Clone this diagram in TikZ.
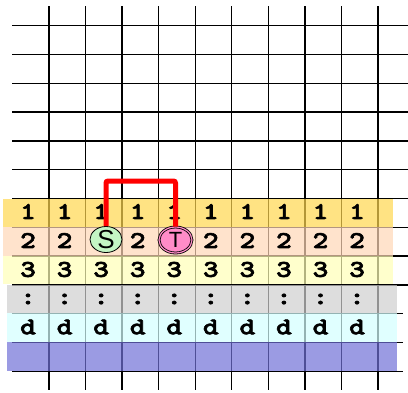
\documentclass[tikz,border=0pt]{standalone}
\usepackage{fontspec}
\setsansfont{Liberation Sans}
\newfontfamily\cellfont[FakeStretch=1.25,FakeBold=2.5]{lmmonolt10-bold.otf}
\usetikzlibrary{shapes.geometric}
\definecolor{bandA}{RGB}{255,215,79}
\definecolor{bandB}{RGB}{255,215,182}
\definecolor{bandC}{RGB}{255,255,182}
\definecolor{bandD}{RGB}{207,207,207}
\definecolor{bandE}{RGB}{211,255,255}
\definecolor{bandF}{RGB}{112,112,215}
\definecolor{sgreen}{RGB}{196,245,196}
\definecolor{tpink}{RGB}{255,140,200}
\tikzset{
  gridline/.style={line width=1.3pt, black},
  band/.style={fill opacity=0.7, draw=none},
  cell/.style={font=\cellfont\fontsize{24}{24}\selectfont, inner sep=0pt, anchor=center},
  snode/.style={ellipse, draw=black, line width=0.8pt, fill=sgreen, minimum width=32pt, minimum height=26pt, inner sep=0pt, font=\sffamily\fontsize{26}{26}\selectfont},
  tnode/.style={ellipse, draw=black, line width=0.8pt, double=tpink, double distance=1.2pt, fill=tpink, minimum width=33pt, minimum height=26pt, inner sep=0pt, font=\sffamily\fontsize{22}{22}\selectfont},
  redpath/.style={red, line width=5pt, rounded corners=2pt}
}
\begin{document}
\begin{tikzpicture}[x=1pt,y=-1pt]
\useasboundingbox (0,0) rectangle (408,392);
% vertical grid lines
\foreach \k in {0,...,9}{
  \draw[gridline] ({49+36.56*\k},6) -- ({49+36.56*\k},390);
}
% horizontal grid lines
\foreach \k in {0,...,9}{
  \draw[gridline] (12,{25.7+28.8*\k}) -- (408,{25.7+28.8*\k});
}
\foreach \k in {10,11,12}{
  \draw[gridline] (12,{25.7+28.8*\k}) -- (403,{25.7+28.8*\k});
}
% bands
\fill[band, bandA] (3,199.3) rectangle (393,227.3);
\fill[band, bandB] (3,227.3) rectangle (393,255.5);
\fill[band, bandC] (3,255.5) rectangle (393,283.5);
\fill[band, bandD] (7,284.9) rectangle (397,313);
\fill[band, bandE] (7,313) rectangle (397,341.8);
\fill[band, bandF] (7,341.8) rectangle (397,370.5);
% cell texts
\foreach \j in {0,...,9}{
  \node[cell] (r1c\j) at ({28+36.56*\j},211.5) {1};
  \node[cell] (r3c\j) at ({28+36.56*\j},269.5) {3};
  \node[cell] (r4c\j) at ({28+36.56*\j},299) {:};
  \node[cell] (r5c\j) at ({28+36.56*\j},327) {d};
}
\foreach \j in {0,1,3,5,6,7,8,9}{
  \node[cell] (r2c\j) at ({28+36.56*\j},240.5) {2};
}
% S and T
\node[snode] (S) at (106,239.5) {S};
\node[tnode] (T) at (175.5,240) {T};
\coordinate (topbar) at (106,181);
\draw[redpath] (S.north) -- (topbar) -| (T.north);
\end{tikzpicture}
\end{document}
